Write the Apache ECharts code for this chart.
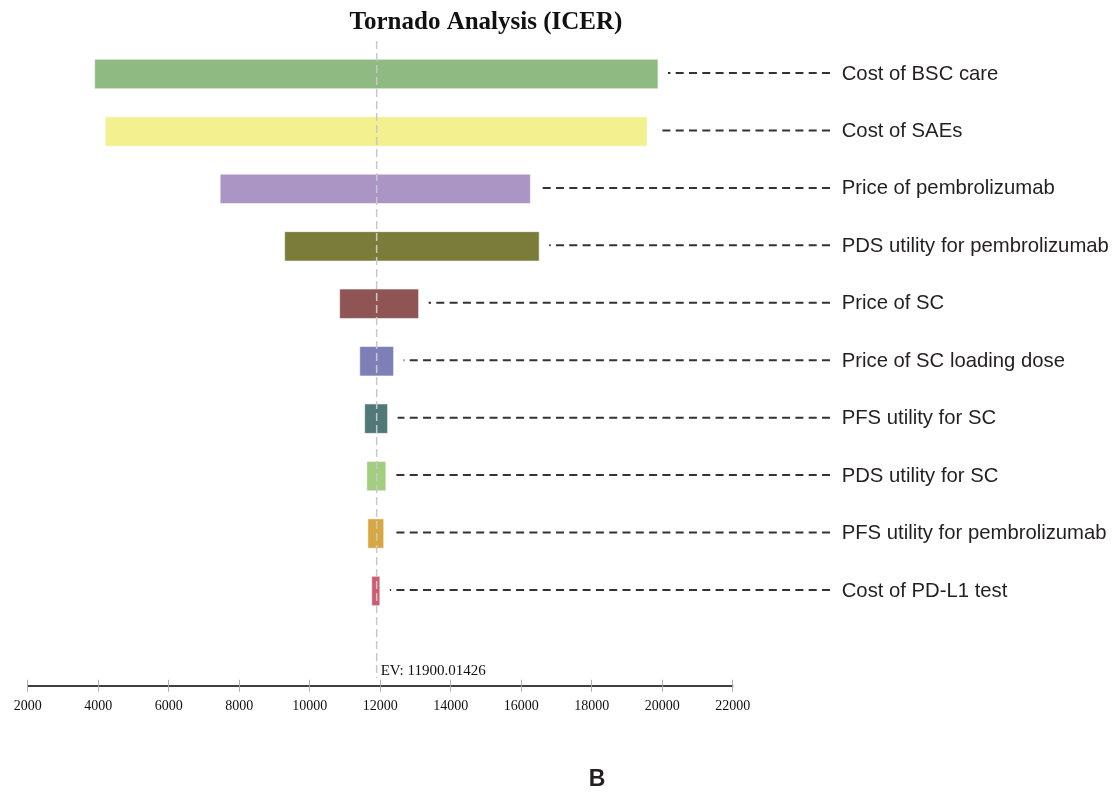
<!DOCTYPE html>
<html>
<head>
<meta charset="utf-8">
<script src="https://cdn.jsdelivr.net/npm/echarts@6/dist/echarts.min.js"></script>
<style>html,body{margin:0;padding:0;background:#fff;}#c{width:1120px;height:795px;}</style>
</head>
<body>
<div id="c"></div>
<script>
// ---- data ----
const categories = [
  'Cost of BSC care',
  'Cost of SAEs',
  'Price of pembrolizumab',
  'PDS utility for pembrolizumab',
  'Price of SC',
  'Price of SC loading dose',
  'PFS utility for SC',
  'PDS utility for SC',
  'PFS utility for pembrolizumab',
  'Cost of PD-L1 test'
];
const lowValues  = [3900, 4200, 7460, 9290, 10850, 11420, 11560, 11620, 11650, 11760];
const highValues = [19880, 19570, 16260, 16510, 13090, 12380, 12210, 12160, 12100, 11990];
const evValue = 11900.01426;
const evLabel = 'EV: 11900.01426';
const titleText = 'Tornado Analysis (ICER)';
const panelLabel = 'B';
const axisMin = 2000, axisMax = 22000, axisStep = 2000;

// ---- styles ----
const barColors = ['#8fba82', '#f2f08f', '#ab95c4', '#7b7c3a', '#8f5555',
                   '#7f7fb8', '#4f7876', '#a3cd7f', '#d7a742', '#cd5b6f'];

const barData = categories.map((c, i) => [i, lowValues[i], highValues[i]]);

const chart = echarts.init(document.getElementById('c'), null, {renderer: 'canvas'});

const serif = '"Liberation Serif", "Times New Roman", serif';
const sans = '"Liberation Sans", Arial, sans-serif';

const baseX = {
  type: 'value', min: axisMin, max: axisMax, interval: axisStep,
  position: 'bottom', offset: 66, splitLine: {show: false}
};

chart.setOption({
  animation: false,
  grid: {left: 27.7, right: 387.3, top: 45.3, bottom: 175.3, containLabel: false},
  xAxis: [
    Object.assign({}, baseX, {
      axisLine: {show: true, lineStyle: {color: '#000', width: 1.5}},
      axisTick: {show: true, length: 6, lineStyle: {color: '#b0b0b0', width: 1}},
      axisLabel: {show: true, margin: 14, fontFamily: serif, fontSize: 14, color: '#111',
        formatter: function (v) { return String(v); }}
    }),
    Object.assign({}, baseX, {
      axisLine: {show: false},
      axisTick: {show: true, inside: true, length: 6, lineStyle: {color: '#b0b0b0', width: 1}},
      axisLabel: {show: false}
    })
  ],
  yAxis: {
    type: 'category', data: categories, inverse: true, position: 'right',
    axisLine: {show: false}, axisTick: {show: false}, splitLine: {show: false},
    axisLabel: {margin: 109, fontFamily: sans, fontSize: 20.3, color: '#231f20', align: 'left'}
  },
  graphic: [
    {type: 'text', x: 486, y: 23, style: {text: titleText, textAlign: 'center', textVerticalAlign: 'middle',
      font: 'bold 25px ' + serif, fill: '#111'}},
    {type: 'text', x: 597, y: 780, style: {text: panelLabel, textAlign: 'center', textVerticalAlign: 'middle',
      font: 'bold 23px ' + sans, fill: '#231f20'}}
  ],
  series: [
    {
      type: 'custom', name: 'leaders', clip: false, z: 1,
      data: barData,
      encode: {x: [1, 2], y: 0},
      renderItem: function (params, api) {
        const yi = api.value(0);
        const hi = api.coord([api.value(2), yi]);
        return {type: 'line', shape: {x1: 830, y1: hi[1] - 1, x2: hi[0] + 10, y2: hi[1] - 1},
          style: {stroke: '#333', lineWidth: 2, lineDash: [8, 5.3]}};
      }
    },
    {
      type: 'custom', name: 'bars', z: 2,
      data: barData,
      encode: {x: [1, 2], y: 0},
      renderItem: function (params, api) {
        const yi = api.value(0);
        const lo = api.coord([api.value(1), yi]);
        const hi = api.coord([api.value(2), yi]);
        const h = api.size([0, 1])[1] * 0.512;
        return {type: 'rect', shape: {x: lo[0], y: lo[1] - h / 2, width: hi[0] - lo[0], height: h},
          style: {fill: barColors[params.dataIndex], stroke: 'rgba(255,255,255,0.55)', lineWidth: 1}};
      }
    },
    {
      type: 'custom', name: 'ev', clip: false, z: 3,
      data: [[evValue, 0]],
      encode: {x: 0, y: 1},
      renderItem: function (params, api) {
        const p = api.coord([api.value(0), 0]);
        return {type: 'group', children: [
          {type: 'line', shape: {x1: p[0], y1: 41, x2: p[0], y2: 678},
            style: {stroke: '#c8c8c8', lineWidth: 1.5, lineDash: [8, 4]}},
          {type: 'text', x: p[0] + 4, y: 671,
            style: {text: evLabel, textAlign: 'left', textVerticalAlign: 'middle', font: '15px ' + serif, fill: '#111'}}
        ]};
      }
    }
  ]
});
</script>
</body>
</html>
